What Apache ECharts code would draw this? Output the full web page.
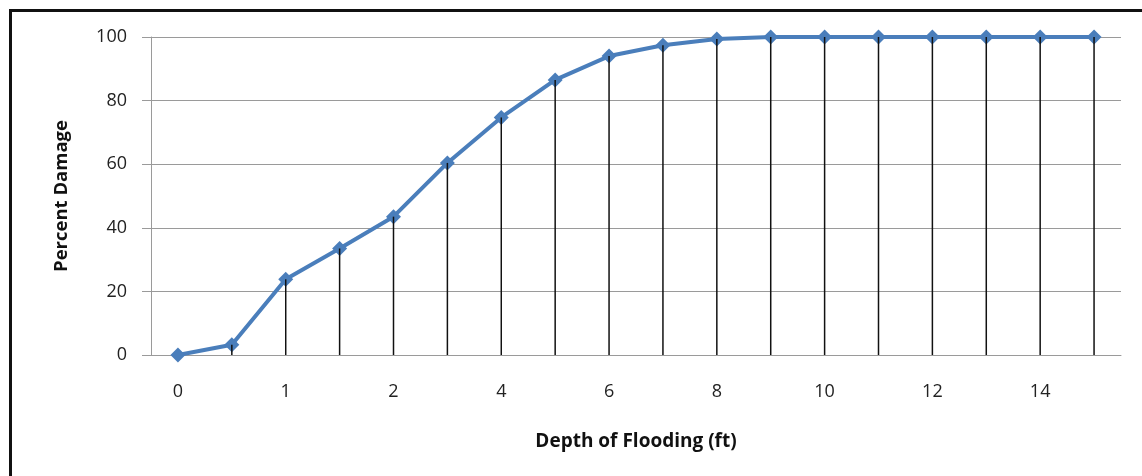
<!DOCTYPE html>
<html>
<head>
<meta charset="utf-8">
<script src="https://cdn.jsdelivr.net/npm/echarts@6/dist/echarts.min.js"></script>
<style>
  html, body { margin: 0; padding: 0; background: #fff; }
  #frame { position: absolute; left: 9px; top: 9px; width: 1150px; height: 480px;
           border-left: 3px solid #111; border-top: 3px solid #111; box-sizing: border-box; }
  #chart { position: absolute; left: 0; top: 0; width: 1142px; height: 476px; }
</style>
</head>
<body>
<div id="frame"></div>
<div id="chart"></div>
<script>
// Depth-damage curve: percent damage by depth of flooding
const depths = ['0', '0.5', '1', '1.5', '2', '3', '4', '5', '6', '7', '8', '9', '10', '11', '12', '13', '14', '15'];
const percentDamage = [0, 3.2, 23.8, 33.5, 43.5, 60.4, 74.7, 86.5, 94, 97.4, 99.4, 100, 100, 100, 100, 100, 100, 100];
const yTicks = [0, 20, 40, 60, 80, 100];

const font = '"Open Sans", "DejaVu Sans", sans-serif';
// square diamond marker (rotated square)
const diamond = 'path://M0,-1L1,0L0,1L-1,0Z';
const chart = echarts.init(document.getElementById('chart'), null, { renderer: 'canvas' });

chart.setOption({
  backgroundColor: 'transparent',
  animation: false,
  grid: { left: 151, right: 21, top: 37, bottom: 121 },
  xAxis: {
    type: 'category',
    data: depths,
    boundaryGap: true,
    name: 'Depth of Flooding (ft)',
    nameLocation: 'middle',
    nameGap: 77,
    nameTextStyle: { fontFamily: font, fontSize: 19, fontWeight: 'bold', color: '#111' },
    axisLine: { lineStyle: { color: '#9a9a9a', width: 1 } },
    axisTick: { show: false },
    axisLabel: { interval: 1, margin: 28, fontFamily: font, fontSize: 18, color: '#222' }
  },
  yAxis: {
    type: 'value',
    min: yTicks[0],
    max: yTicks[yTicks.length - 1],
    interval: 20,
    name: 'Percent Damage',
    nameLocation: 'middle',
    nameGap: 80,
    nameTextStyle: { fontFamily: font, fontSize: 18.5, fontWeight: 'bold', color: '#111' },
    axisLine: { show: true, lineStyle: { color: '#9a9a9a', width: 1 } },
    axisTick: { show: true, inside: false, length: 9, lineStyle: { color: '#9a9a9a' } },
    axisLabel: { margin: 24, fontFamily: font, fontSize: 18, color: '#222' },
    splitLine: { lineStyle: { color: '#9a9a9a', width: 1 } }
  },
  series: [
    {
      // curve with diamond markers
      type: 'line',
      data: percentDamage,
      z: 2,
      lineStyle: { color: '#4a7ebb', width: 4 },
      itemStyle: { color: '#4a7ebb' },
      symbol: diamond,
      symbolSize: 15,
      showAllSymbol: true
    },
    {
      // drop lines from each point to the axis
      type: 'bar',
      data: percentDamage,
      z: 3,
      barWidth: 1.5,
      itemStyle: { color: '#111' },
      silent: true
    }
  ]
});
</script>
</body>
</html>
